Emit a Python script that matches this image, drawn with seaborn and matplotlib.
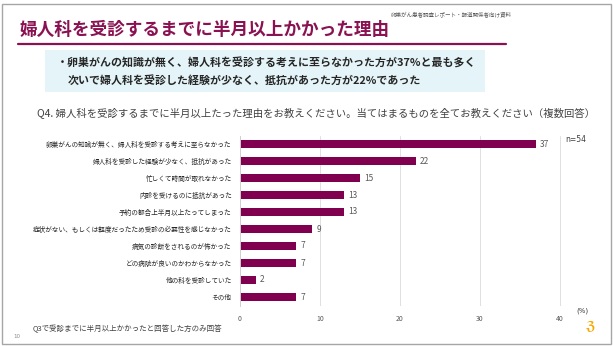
import matplotlib
matplotlib.use("Agg")
import matplotlib.pyplot as plt
import seaborn as sns
import pandas as pd
from matplotlib.patches import Rectangle
from matplotlib.lines import Line2D

categories = [
    "卵巣がんの知識が無く、婦人科を受診する考えに至らなかった",
    "婦人科を受診した経験が少なく、抵抗があった",
    "忙しくて時間が取れなかった",
    "内診を受けるのに抵抗があった",
    "予約の都合上半月以上たってしまった",
    "症状がない、もしくは軽度だったため受診の必要性を感じなかった",
    "病気の診断をされるのが怖かった",
    "どの病院が良いのかわからなかった",
    "他の科を受診していた",
    "その他",
]
values = [37, 22, 15, 13, 13, 9, 7, 7, 2, 7]
xticks = [0, 10, 20, 30, 40]

sns.set_theme(style="white")
FAM = ["Noto Sans CJK JP", "DejaVu Sans"]
plt.rcParams["font.family"] = FAM

W, H = 613, 346
fig = plt.figure(figsize=(W / 100, H / 100), dpi=100)
fig.patch.set_facecolor("white")

def fx(px):
    return px / W

def fy(py):
    return 1 - py / H

MAG = "#8a1252"
BAR = "#80004f"

# slide border
fig.add_artist(Rectangle((fx(2), fy(344)), fx(609), (342 - 2) / H, transform=fig.transFigure,
                         fill=False, edgecolor="#a6a6a6", linewidth=1.0))

# header
fig.text(fx(512), fy(15), "卵巣がん患者調査レポート・報道関係者向け資料", ha="right", va="center",
         fontsize=4.0, color="#595959")
fig.text(fx(19), fy(30), "婦人科を受診するまでに半月以上かかった理由", ha="left", va="center",
         fontsize=12.7, fontweight="bold", color=MAG)
fig.add_artist(Line2D([fx(18), fx(506)], [fy(43.5), fy(43.5)], transform=fig.transFigure,
                      color=MAG, linewidth=1.6))

# blue box
fig.add_artist(Rectangle((fx(45), fy(92)), fx(440), 42 / H, transform=fig.transFigure,
                         facecolor="#e4f4f8", edgecolor="none"))
fig.text(fx(57), fy(63), "・卵巣がんの知識が無く、婦人科を受診する考えに至らなかった方が37%と最も多く",
         ha="left", va="center", fontsize=7.9, fontweight="bold", color="#262626")
fig.text(fx(68), fy(80), "次いで婦人科を受診した経験が少なく、抵抗があった方が22%であった",
         ha="left", va="center", fontsize=7.9, fontweight="bold", color="#262626")

# question
fig.text(fx(37), fy(113), "Q4. 婦人科を受診するまでに半月以上たった理由をお教えください。当てはまるものを全てお教えください（複数回答）",
         ha="left", va="center", fontsize=7.45, color="#404040")

# chart
ax = fig.add_axes([fx(240), fy(305.5), fx(360), 170 / H])
df = pd.DataFrame({"cat": categories, "val": values})
sns.barplot(data=df, x="val", y="cat", orient="h", color=BAR, width=0.42, ax=ax,
            saturation=1, edgecolor="none")
ax.set_xlim(0, 45)
ax.set_xticks(xticks)
ax.set_xticklabels([str(t) for t in xticks], fontsize=5, color="#595959")
ax.set_xlabel("")
ax.set_ylabel("")
ax.tick_params(axis="y", labelsize=4.8, labelcolor="#262626", length=0, pad=6)
ax.tick_params(axis="x", length=0, pad=7)
ax.grid(axis="x", color="#e0e0e0", linewidth=0.7)
ax.set_axisbelow(True)
for s in ["top", "right", "bottom"]:
    ax.spines[s].set_visible(False)
ax.spines["left"].set_color("#d0d0d0")
ax.spines["left"].set_linewidth(0.7)
for c in ax.containers:
    ax.bar_label(c, labels=[str(v) for v in values], padding=3, fontsize=6, color="#595959")

fig.text(fx(565), fy(139), "n=54", ha="left", va="center", fontsize=5.5, color="#404040",
         family="DejaVu Sans")
fig.text(fx(582), fy(311), "(%)", ha="center", va="center", fontsize=5, color="#404040",
         family="DejaVu Sans")
fig.text(fx(33), fy(329), "Q3で受診までに半月以上かかったと回答した方のみ回答", ha="left", va="center",
         fontsize=5.4, color="#404040")
fig.text(fx(13), fy(336), "10", ha="left", va="center", fontsize=4, color="#8c8c8c",
         family="DejaVu Sans")

# small orange logo mark
fig.text(fx(590), fy(327), "ℨ", ha="center", va="center", fontsize=9, color="#f5a800",
         family="DejaVu Sans", fontweight="bold")

fig.savefig("out.png", dpi=100)
